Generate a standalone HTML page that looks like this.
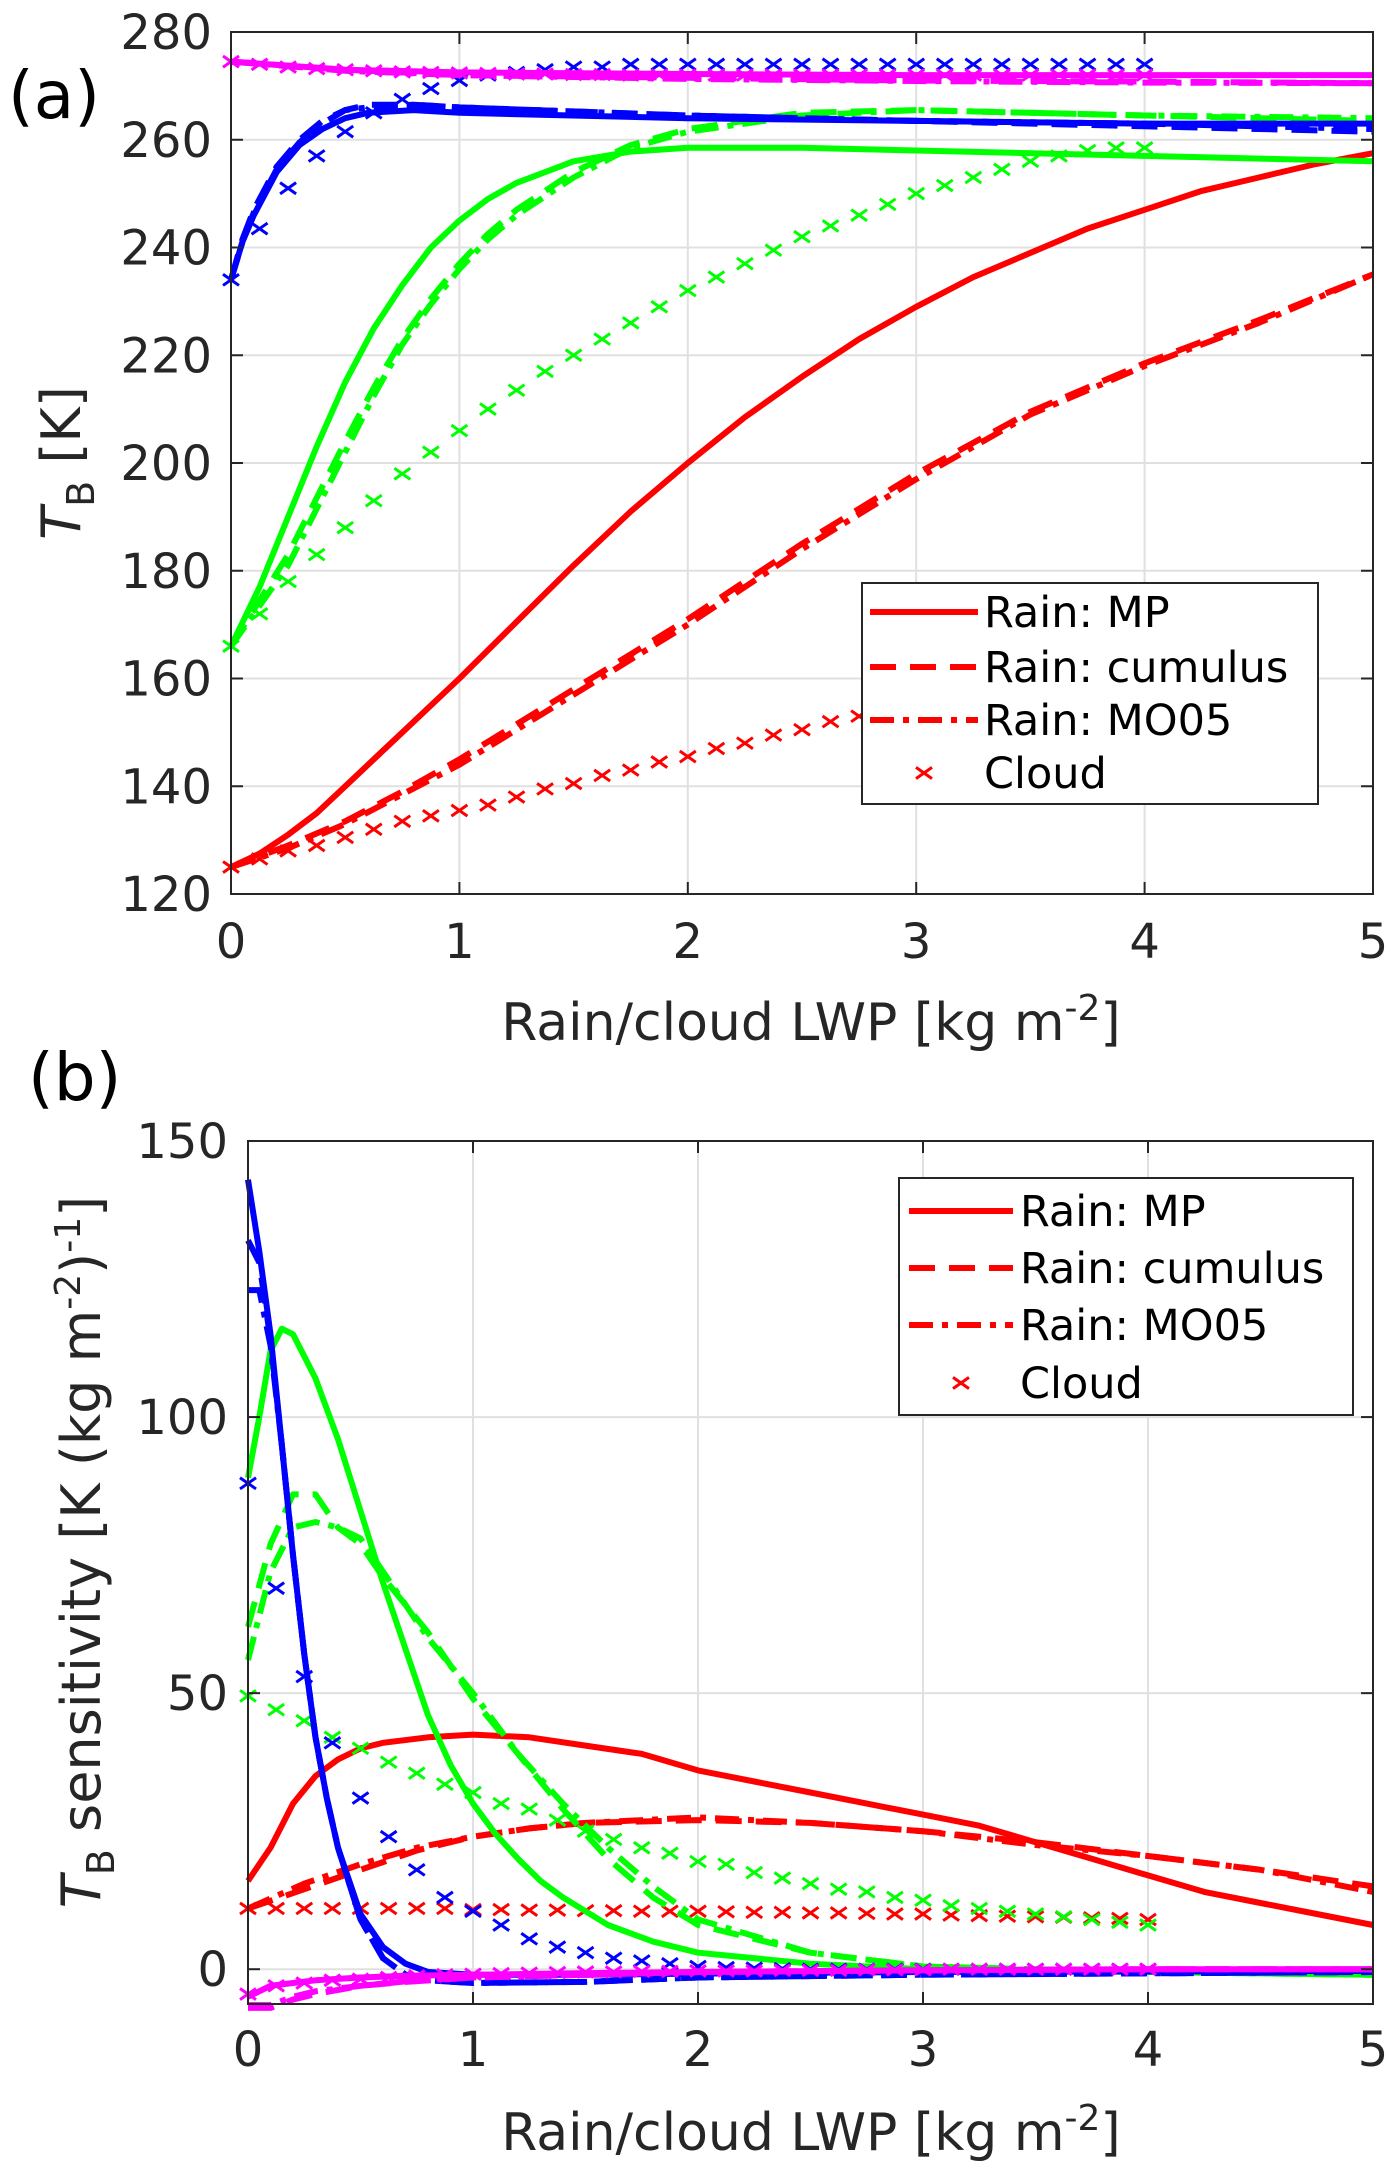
<!DOCTYPE html>
<html><head><meta charset="utf-8">
<style>
html,body{margin:0;padding:0;background:#fff;}
svg{display:block;font-family:"DejaVu Sans","Liberation Sans",sans-serif;}
</style></head>
<body>
<svg id="fig" width="1398" height="2176" viewBox="0 0 1398 2176" xmlns="http://www.w3.org/2000/svg">
<text x="8" y="118" font-size="66" fill="#000">(a)</text>
<text x="28" y="1100" font-size="66" fill="#000">(b)</text>
<g id="pa"></g>
<g id="pb"></g>
</svg>
<script>
// ---------- shared ----------
const xTicks = [0,1,2,3,4,5];
const cloudX = [0,0.125,0.25,0.375,0.5,0.625,0.75,0.875,1,1.125,1.25,1.375,1.5,1.625,1.75,1.875,2,2.125,2.25,2.375,2.5,2.625,2.75,2.875,3,3.125,3.25,3.375,3.5,3.625,3.75,3.875,4];

// ---------- panel (a) data ----------
const aTicks = [120,140,160,180,200,220,240,260,280];
const aRedMPx = [0,0.125,0.25,0.375,0.5,0.75,1,1.25,1.5,1.75,2,2.25,2.5,2.75,3,3.25,3.5,3.75,4,4.25,4.5,4.75,5];
const aRedMPy = [125,127.5,131,135,140,150,160,170.5,181,191,200,208.5,216,223,229,234.5,239,243.5,247,250.5,253,255.5,257.5];
const aRedCUx = [0,0.25,0.5,0.75,1,1.25,1.5,1.75,2,2.5,3,3.5,4,4.5,5];
const aRedCUy = [125,129,133.5,139,145,151.5,158,164.5,171,185,198,209.5,218.5,226.5,235];
const aRedMOy = [125,128.5,133,138.5,144,150.5,157,163.5,170,184,197,209,218,226,235];
const aRedCLy = [125,126.5,128,129,130.5,132,133.5,134.5,135.5,136.5,138,139.5,140.5,142,143,144.5,145.5,147,148,149.5,150.5,152,153,154.5,155.5,157,158,159.5,160.5,162,163,164.5,165.5];
const aGrnMPx = [0,0.125,0.25,0.375,0.5,0.625,0.75,0.875,1,1.125,1.25,1.5,1.75,2,2.5,3,4,5];
const aGrnMPy = [166,177,190,203,215,225,233,240,245,249,252,256,257.8,258.5,258.5,258,257,256];
const aGrnCUx = [0,0.25,0.5,0.625,0.75,0.875,1,1.125,1.25,1.5,1.75,2,2.5,3,3.5,4,5];
const aGrnCUy = [166,183,204,214,223,230.5,237,242.5,247,254,259,262,265,265.5,265,264.5,263.5];
const aGrnMOy = [166,181,202,212.5,222,229.5,236,241.5,246,253,258.5,261.5,264.5,265.5,265,264.5,264];
const aGrnCLy = [166,172,178,183,188,193,198,202,206,210,213.5,217,220,223,226,229,232,234.5,237,239.5,242,244,246,248,250,251.5,253,254.5,256,257,258,258.5,258.5];
const aBluMPx = [0,0.05,0.1,0.2,0.3,0.4,0.5,0.6,0.8,1,2,3,4,5];
const aBluMPy = [234,241,246,254,259,262,264,265,265.5,265,264,263.5,263,263];
const aBluCUy = [234,241.5,247,255,260,263.5,265.5,266.5,266.5,266,264.5,263.5,262.5,261.5];
const aBluMOy = [234,241,246.5,254.5,259.5,263,265.5,266,266.5,266,264.5,263.5,263,262];
const aBluCLy = [234,243.5,251,257,261.5,265,267.5,269.5,271,272,272.5,273,273.5,273.5,274,274,274,274,274,274,274,274,274,274,274,274,274,274,274,274,274,274,274];
const aMagMPx = [0,0.5,1,2,3,4,5];
const aMagMPy = [274.5,273,272.5,272.2,272,272,272];
const aMagCUy = [274.5,273,272,271.5,271,270.8,270.5];
const aMagMOy = [274.5,272.8,272,271.3,270.9,270.6,270.5];
const aMagCLy = [274.5,274,273.5,273.2,273,272.8,272.6,272.5,272.4,272.3,272.2,272.2,272.1,272.1,272,272,272,272,272,272,272,272,272,272,272,272,272,272,272,272,272,272,272];

// ---------- panel (b) data ----------
const bTicks = [0,50,100,150];
const bBluMPx = [0,0.05,0.1,0.15,0.2,0.25,0.3,0.35,0.4,0.5,0.6,0.7,0.8,1,1.5,2,3,5];
const bBluMPy = [143,130,115,95,75,57,42,31,22,10,4,1,-0.5,-1,-1,-0.8,-0.5,-0.3];
const bBluCUy = [132,128,114,95,75,57,42,31,22,9,2,-1,-2,-2.5,-2.3,-1.5,-1,-0.5];
const bBluMOy = [123,123,113,95,75,57,42,31,22,9,2,-1,-2,-2.5,-2.3,-1.5,-1,-0.5];
const bBluCLy = [88,69,53,41,31,24,18,13,10.5,8,5.5,4,3,2,1.5,1,0.5,0.3,0.2,0.1,0,0,0,0,0,0,0,0,0,0,0,0,0];
const bGrnMPx = [0,0.05,0.1,0.15,0.2,0.3,0.4,0.5,0.6,0.7,0.8,0.9,1,1.1,1.2,1.3,1.4,1.6,1.8,2,2.5,3,4,5];
const bGrnMPy = [89,100,112,116,115,107,96,83,70,58,46,37,30,24.5,20,16,13,8,5,3,1,0,-0.5,-1];
const bGrnCUx = [0,0.1,0.2,0.3,0.4,0.5,0.6,0.8,1,1.2,1.4,1.6,1.8,2,2.5,3,4,5];
const bGrnCUy = [62,77,86,86,80,77,71,61,49,39,29,20,13,8,3,0.5,-0.5,-1];
const bGrnMOy = [56,72,80,81,80,78,72,60,50,39,30,22,15,9,3,0.5,-0.5,-1];
const bGrnCLy = [49.5,47,45,42,40,37.5,35.5,33.5,32,30,29,27,25,23.5,22,21,19.5,19,17.5,16.5,15.5,14.5,14,13,12.5,11.5,11,10.5,10,9.5,9,8.5,8];
const bRedMPx = [0,0.1,0.2,0.3,0.4,0.5,0.6,0.8,1,1.25,1.5,1.75,2,2.25,2.5,2.75,3,3.25,3.5,3.75,4,4.25,4.5,4.75,5];
const bRedMPy = [16,22,30,35,38,40,41,42,42.5,42,40.5,39,36,34,32,30,28,26,23,20,17,14,12,10,8];
const bRedCUx = [0,0.25,0.5,0.75,1,1.25,1.5,2,2.5,3,3.5,4,4.5,5];
const bRedCUy = [11,14.5,18,21.5,24,25.5,26.5,27,26.5,25,23,20.5,18,15];
const bRedMOy = [11,15.5,19,22,24,25.5,26.5,27.5,26.5,25,22.5,20.5,18,14];
const bRedCLy = [11,11,11,11,11,11,11,11,10.8,10.8,10.7,10.7,10.6,10.6,10.5,10.5,10.5,10.4,10.3,10.3,10.2,10.2,10.1,10,10,9.8,9.7,9.6,9.5,9.4,9.3,9.2,9];
const bMagMPx = [0,0.1,0.2,0.3,0.5,0.7,1,1.5,2,3,4,5];
const bMagMPy = [-5,-3,-2.5,-2,-1.5,-1.2,-1,-0.7,-0.5,-0.2,0,0];
const bMagCUy = [-7,-7,-5.5,-4.5,-3,-2.3,-1.5,-1,-0.5,-0.2,0,0];
const bMagMOy = [-6.5,-6.5,-5,-4,-3,-2.2,-1.5,-1,-0.5,-0.2,0,0];
const bMagCLy = [-4.5,-3,-2.5,-2,-1.8,-1.5,-1.2,-1,-0.9,-0.8,-0.7,-0.6,-0.5,-0.5,-0.4,-0.4,-0.3,-0.3,-0.3,-0.2,-0.2,-0.2,-0.1,-0.1,-0.1,0,0,0,0,0,0,0,0];

const NS = "http://www.w3.org/2000/svg";
const RED="#ff0000", GRN="#00ff00", BLU="#0000ff", MAG="#ff00ff";
const DASH="26 14", DASHDOT="24 9 6 9";

function mk(tag, parent, attrs){ const e=document.createElementNS(NS,tag); for(const k in attrs) e.setAttribute(k,attrs[k]); parent.appendChild(e); return e; }

function makePanel(g, L, R, T, B, ymin, ymax, yTicks){
  const sx = v => L + (v-0)/(5-0)*(R-L);
  const sy = v => B - (v-ymin)/(ymax-ymin)*(B-T);
  for(const t of xTicks){
    const gl = mk('line', g, {x1:sx(t),x2:sx(t),y1:T,y2:B,stroke:'#e0e0e0','stroke-width':2});
    
    
  }
  for(const t of yTicks){
    const gl = mk('line', g, {x1:L,x2:R,y1:sy(t),y2:sy(t),stroke:'#e0e0e0','stroke-width':2});
    
    
  }
  return {sx, sy};
}

function line(g, s, xs, ys, color, dash, name){
  const pts = xs.map((x,i)=> s.sx(x).toFixed(1)+','+s.sy(ys[i]).toFixed(1)).join(' ');
  const p = mk('polyline', g, {points:pts, fill:'none', stroke:color, 'stroke-width':6, 'stroke-linejoin':'round'});
  if(dash) p.setAttribute('stroke-dasharray', dash);
  
  
}
function crosses(g, s, xs, ys, color, name){
  const grp = mk('g', g, {});
  
  
  xs.forEach((x,i)=>{
    const cx=s.sx(x), cy=s.sy(ys[i]), r=8;
    const m = mk('path', grp, {d:`M${cx-r},${cy-r*0.7}L${cx+r},${cy+r*0.7}M${cx-r},${cy+r*0.7}L${cx+r},${cy-r*0.7}`, stroke:color,'stroke-width':3, fill:'none'});
    
    
  });
}
function frame(g, s, L, R, T, B, yTicks, yLabX, xLabY){
  mk('rect', g, {x:L,y:T,width:R-L,height:B-T,fill:'none',stroke:'#262626','stroke-width':2});
  for(const t of xTicks){
    mk('line', g, {x1:s.sx(t),x2:s.sx(t),y1:B,y2:B-12,stroke:'#262626','stroke-width':2});
    mk('line', g, {x1:s.sx(t),x2:s.sx(t),y1:T,y2:T+12,stroke:'#262626','stroke-width':2});
    const tx = mk('text', g, {x:s.sx(t), y:xLabY, 'font-size':48, 'text-anchor':'middle', fill:'#262626'});
    tx.textContent = t;
    
    
  }
  for(const t of yTicks){
    mk('line', g, {x1:L,x2:L+12,y1:s.sy(t),y2:s.sy(t),stroke:'#262626','stroke-width':2});
    mk('line', g, {x1:R,x2:R-12,y1:s.sy(t),y2:s.sy(t),stroke:'#262626','stroke-width':2});
    const ty = mk('text', g, {x:yLabX, y:s.sy(t)+17, 'font-size':48, 'text-anchor':'end', fill:'#262626'});
    ty.textContent = t;
    
    
  }
}
function legend(g, x, y, w, h, rowY, sx0, sx1, tx){
  const lg = mk('g', g, {});
  
  
  mk('rect', lg, {x:x,y:y,width:w,height:h,fill:'#fff',stroke:'#262626','stroke-width':2});
  const labels=['Rain: MP','Rain: cumulus','Rain: MO05','Cloud'];
  const dashes=[null,DASH,DASHDOT,'x'];
  labels.forEach((lab,i)=>{
    const yy=rowY[i];
    if(dashes[i]==='x'){
      const cx=(sx0+sx1)/2, r=8;
      mk('path', lg, {d:`M${cx-r},${yy-r*0.7}L${cx+r},${yy+r*0.7}M${cx-r},${yy+r*0.7}L${cx+r},${yy-r*0.7}`, stroke:RED,'stroke-width':3});
    } else {
      const l = mk('line', lg, {x1:sx0,x2:sx1,y1:yy,y2:yy,stroke:RED,'stroke-width':6});
      if(dashes[i]) l.setAttribute('stroke-dasharray', dashes[i]);
    }
    const t = mk('text', lg, {x:tx, y:yy+15, 'font-size':43, fill:'#000'});
    t.textContent = lab;
    
    
  });
}

// ---------- panel (a) ----------
(function(){
  const g=document.getElementById('pa');
  const L=231,R=1373,T=32,B=894;
  const s=makePanel(g,L,R,T,B,120,280,aTicks);
  line(g,s,aRedMPx,aRedMPy,RED,null,'red-mp-line');
  line(g,s,aRedCUx,aRedCUy,RED,DASH,'red-cumulus-line');
  line(g,s,aRedCUx,aRedMOy,RED,DASHDOT,'red-mo05-line');
  crosses(g,s,cloudX,aRedCLy,RED,'red-cloud-markers');
  line(g,s,aGrnMPx,aGrnMPy,GRN,null,'green-mp-line');
  line(g,s,aGrnCUx,aGrnCUy,GRN,DASH,'green-cumulus-line');
  line(g,s,aGrnCUx,aGrnMOy,GRN,DASHDOT,'green-mo05-line');
  crosses(g,s,cloudX,aGrnCLy,GRN,'green-cloud-markers');
  line(g,s,aBluMPx,aBluMPy,BLU,null,'blue-mp-line');
  line(g,s,aBluMPx,aBluCUy,BLU,DASH,'blue-cumulus-line');
  line(g,s,aBluMPx,aBluMOy,BLU,DASHDOT,'blue-mo05-line');
  crosses(g,s,cloudX,aBluCLy,BLU,'blue-cloud-markers');
  line(g,s,aMagMPx,aMagMPy,MAG,null,'magenta-mp-line');
  line(g,s,aMagMPx,aMagCUy,MAG,DASH,'magenta-cumulus-line');
  line(g,s,aMagMPx,aMagMOy,MAG,DASHDOT,'magenta-mo05-line');
  crosses(g,s,cloudX,aMagCLy,MAG,'magenta-cloud-markers');
  frame(g,s,L,R,T,B,aTicks,212,958);
  legend(g,862,583,456,221,[612,667,720,773],870,978,984);
  const xl=mk('text',g,{x:811,y:1040,'font-size':52,'text-anchor':'middle',fill:'#262626'});
  xl.innerHTML='Rain/cloud LWP [kg m<tspan dy="-20" font-size="36">-2</tspan><tspan dy="20">]</tspan>';
  
  
  const yl=mk('text',g,{x:0,y:0,'font-size':54,'text-anchor':'middle',fill:'#262626',transform:'translate(80,463) rotate(-90)'});
  yl.innerHTML='<tspan font-style="italic">T</tspan><tspan dy="14" font-size="38">B</tspan><tspan dy="-14"> [K]</tspan>';
  
  
})();

// ---------- panel (b) ----------
(function(){
  const g=document.getElementById('pb');
  const L=248,R=1373,T=1141,B=2004;
  const s=makePanel(g,L,R,T,B,-6.3,150,bTicks);
  line(g,s,bRedMPx,bRedMPy,RED,null,'red-mp-line');
  line(g,s,bRedCUx,bRedCUy,RED,DASH,'red-cumulus-line');
  line(g,s,bRedCUx,bRedMOy,RED,DASHDOT,'red-mo05-line');
  crosses(g,s,cloudX,bRedCLy,RED,'red-cloud-markers');
  line(g,s,bGrnMPx,bGrnMPy,GRN,null,'green-mp-line');
  line(g,s,bGrnCUx,bGrnCUy,GRN,DASH,'green-cumulus-line');
  line(g,s,bGrnCUx,bGrnMOy,GRN,DASHDOT,'green-mo05-line');
  crosses(g,s,cloudX,bGrnCLy,GRN,'green-cloud-markers');
  line(g,s,bBluMPx,bBluMPy,BLU,null,'blue-mp-line');
  line(g,s,bBluMPx,bBluCUy,BLU,DASH,'blue-cumulus-line');
  line(g,s,bBluMPx,bBluMOy,BLU,DASHDOT,'blue-mo05-line');
  crosses(g,s,cloudX,bBluCLy,BLU,'blue-cloud-markers');
  line(g,s,bMagMPx,bMagMPy,MAG,null,'magenta-mp-line');
  line(g,s,bMagMPx,bMagCUy,MAG,DASH,'magenta-cumulus-line');
  line(g,s,bMagMPx,bMagMOy,MAG,DASHDOT,'magenta-mo05-line');
  crosses(g,s,cloudX,bMagCLy,MAG,'magenta-cloud-markers');
  frame(g,s,L,R,T,B,bTicks,228,2066);
  legend(g,899,1178,454,237,[1211,1268,1325,1383],909,1013,1020);
  const xl=mk('text',g,{x:811,y:2150,'font-size':52,'text-anchor':'middle',fill:'#262626'});
  xl.innerHTML='Rain/cloud LWP [kg m<tspan dy="-20" font-size="36">-2</tspan><tspan dy="20">]</tspan>';
  
  
  const yl=mk('text',g,{x:0,y:0,'font-size':54,'text-anchor':'middle',fill:'#262626',transform:'translate(100,1552) rotate(-90)'});
  yl.innerHTML='<tspan font-style="italic">T</tspan><tspan dy="14" font-size="38">B</tspan><tspan dy="-14"> sensitivity [K (kg m</tspan><tspan dy="-20" font-size="36">-2</tspan><tspan dy="20">)</tspan><tspan dy="-20" font-size="36">-1</tspan><tspan dy="20">]</tspan>';
  
  
})();
</script>
</body></html>
